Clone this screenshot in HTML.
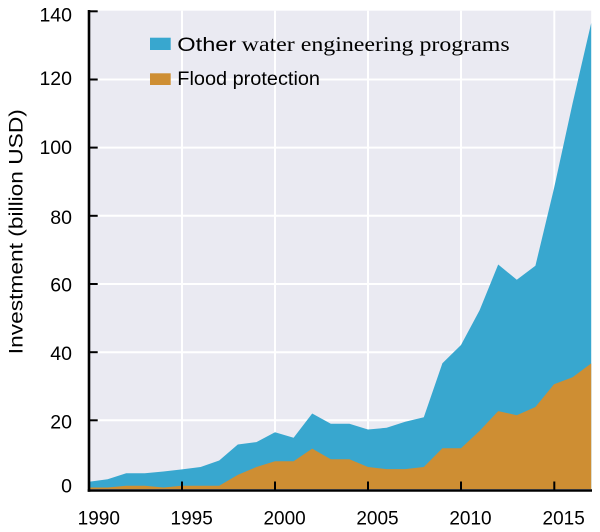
<!DOCTYPE html>
<html>
<head>
<meta charset="utf-8">
<style>
html,body{margin:0;padding:0;background:#fff;}
svg{display:block;}
</style>
</head>
<body>
<svg width="600" height="532" viewBox="0 0 600 532" xmlns="http://www.w3.org/2000/svg">
  <!-- plot background -->
  <rect x="89" y="10.7" width="502.2" height="479.8" fill="#EAEAF2"/>
  <!-- grid -->
  <g stroke="#FFFFFF" stroke-width="2">
    <line x1="182" y1="10.7" x2="182" y2="490"/>
    <line x1="275" y1="10.7" x2="275" y2="490"/>
    <line x1="368" y1="10.7" x2="368" y2="490"/>
    <line x1="461" y1="10.7" x2="461" y2="490"/>
    <line x1="554.3" y1="10.7" x2="554.3" y2="490"/>
    <line x1="89" y1="420.3" x2="591.2" y2="420.3"/>
    <line x1="89" y1="352.2" x2="591.2" y2="352.2"/>
    <line x1="89" y1="284" x2="591.2" y2="284"/>
    <line x1="89" y1="215.8" x2="591.2" y2="215.8"/>
    <line x1="89" y1="147.6" x2="591.2" y2="147.6"/>
    <line x1="89" y1="79.5" x2="591.2" y2="79.5"/>
  </g>
  <!-- blue (total) area -->
  <polygon fill="#38A7CF" points="89,489 89,481.7 107.6,479.3 126.2,473.3 144.8,473.3 163.4,471.5 182,469.4 200.6,467 219.2,460.5 237.8,444.5 256.4,442.1 275,432.2 293.6,437.7 312.2,413.5 330.8,423.7 349.4,423.7 368,429.5 386.6,427.8 405.2,421.7 423.8,417.2 442.4,363.3 461,345 479.6,310.2 498.2,264.5 516.8,279.8 535.4,265.8 554,188.4 572.6,103.2 591.2,23 591.2,489"/>
  <!-- orange (flood) area -->
  <polygon fill="#CE8E33" points="89,489 89,487.5 107.6,487.5 126.2,485.8 144.8,485.8 163.4,487.5 182,485.8 200.6,485.8 219.2,485.8 237.8,474.9 256.4,467 275,461.2 293.6,461.2 312.2,448.6 330.8,459.2 349.4,459.2 368,467 386.6,469.1 405.2,469.1 423.8,467 442.4,448.3 461,448.3 479.6,430.9 498.2,411.1 516.8,415.2 535.4,407 554,384.2 572.6,377.3 591.2,363.4 591.2,489"/>
  <!-- spines -->
  <line x1="89" y1="10" x2="89" y2="491.8" stroke="#000" stroke-width="2.6"/>
  <line x1="87.7" y1="490.5" x2="592" y2="490.5" stroke="#000" stroke-width="2.6"/>
  <!-- y ticks -->
  <g stroke="#000" stroke-width="2">
    <line x1="89" y1="11.3" x2="97.7" y2="11.3"/>
    <line x1="89" y1="79.5" x2="97.7" y2="79.5"/>
    <line x1="89" y1="147.6" x2="97.7" y2="147.6"/>
    <line x1="89" y1="215.8" x2="97.7" y2="215.8"/>
    <line x1="89" y1="284" x2="97.7" y2="284"/>
    <line x1="89" y1="352.2" x2="97.7" y2="352.2"/>
    <line x1="89" y1="420.3" x2="97.7" y2="420.3"/>
    <!-- x ticks -->
    <line x1="182" y1="490" x2="182" y2="481.5"/>
    <line x1="275" y1="490" x2="275" y2="481.5"/>
    <line x1="368" y1="490" x2="368" y2="481.5"/>
    <line x1="461" y1="490" x2="461" y2="481.5"/>
    <line x1="554.3" y1="490" x2="554.3" y2="481.5"/>
  </g>
  <!-- y tick labels -->
  <g font-family="'Liberation Sans', Arial, sans-serif" font-size="19.5" fill="#000" text-anchor="end">
    <text x="72" y="21.7">140</text>
    <text x="72" y="85">120</text>
    <text x="72" y="154">100</text>
    <text x="72" y="224">80</text>
    <text x="72" y="291.7">60</text>
    <text x="72" y="360">40</text>
    <text x="72" y="428.3">20</text>
    <text x="72" y="492.3">0</text>
  </g>
  <!-- x tick labels -->
  <g font-family="'Liberation Sans', Arial, sans-serif" font-size="19" fill="#000" text-anchor="middle">
    <text x="98.8" y="524.3">1990</text>
    <text x="191.7" y="524.3">1995</text>
    <text x="284.6" y="524.3">2000</text>
    <text x="377.5" y="524.3">2005</text>
    <text x="470.5" y="524.3">2010</text>
    <text x="563.7" y="524.3">2015</text>
  </g>
  <!-- y axis label -->
  <text transform="translate(22.3,231.7) rotate(-90)" font-family="'Liberation Sans', Arial, sans-serif" font-size="19.5" fill="#000" text-anchor="middle" textLength="245" lengthAdjust="spacingAndGlyphs">Investment (billion USD)</text>
  <!-- legend -->
  <rect x="150" y="37.7" width="20.7" height="12.3" fill="#38A7CF"/>
  <rect x="150" y="73.3" width="20.7" height="11.7" fill="#CE8E33"/>
  <text x="177.3" y="51" font-family="'Liberation Sans', Arial, sans-serif" font-size="19" fill="#000" textLength="59" lengthAdjust="spacingAndGlyphs">Other</text>
  <text x="241.7" y="51" font-family="'Liberation Serif', 'Times New Roman', serif" font-size="21.5" fill="#000" textLength="268" lengthAdjust="spacingAndGlyphs">water engineering programs</text>
  <text x="177.3" y="85" font-family="'Liberation Sans', Arial, sans-serif" font-size="19" fill="#000" textLength="142.7" lengthAdjust="spacingAndGlyphs">Flood protection</text>
</svg>
</body>
</html>
